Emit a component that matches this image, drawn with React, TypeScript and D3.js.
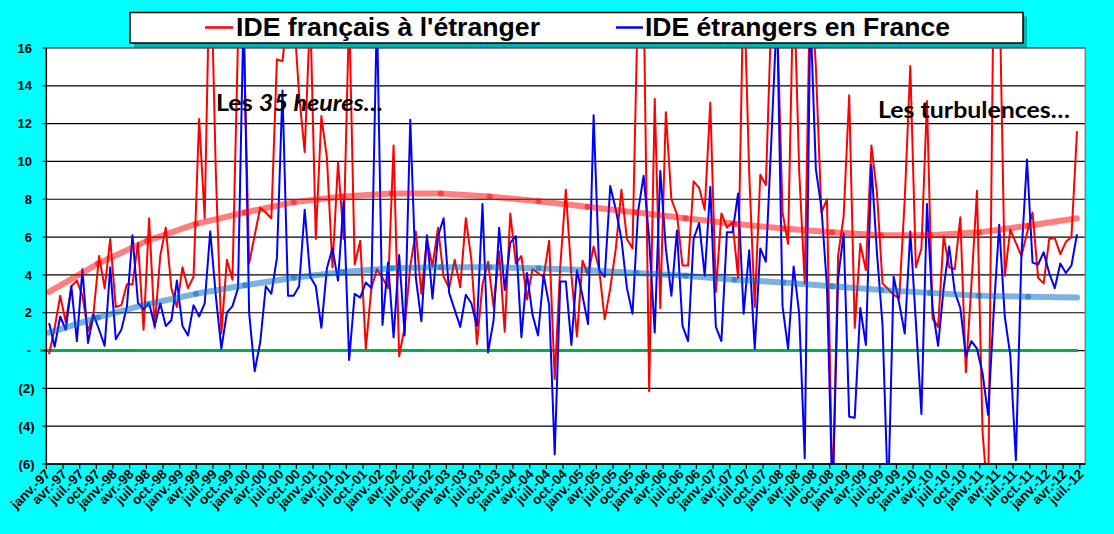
import React from "react";
import * as d3 from "d3";

// month labels (French, Excel style)
const monthNames = ["janv.", "févr.", "mars", "avr.", "mai", "juin", "juil.", "août", "sept.", "oct.", "nov.", "déc."];
const years = ["97", "98", "99", "00", "01", "02", "03", "04", "05", "06", "07", "08", "09", "10", "11", "12"];
const categories: string[] = years.flatMap((y) => monthNames.map((m) => `${m}-${y}`)).slice(0, 187);

// IDE français à l'étranger (Md€ / mois), janv.-97 -> juin-12
const ideFrancais = [
    -0.2, 1.2, 2.9, 1.5, 3.4, 3.7, 2.9, 1.0, 2.0, 5.0, 3.3, 5.9,
    2.3, 2.4, 3.5, 3.5, 5.7, 1.1, 7.0, 1.2, 5.0, 6.5, 3.3, 2.3,
    4.4, 3.3, 3.9, 12.25, 7.0, 22, 9.5, 0.9, 4.8, 3.75, 16.5, 17,
    4.6, 6.1, 7.55, 7.3, 7.0, 15.4, 15.3, 18, 18, 13.5, 10.5, 18,
    5.9, 12.4, 10.2, 4.4, 9.95, 5.9, 18, 4.55, 5.8, 0.1, 3.3, 4.3,
    3.85, 3.3, 10.85, -0.3, 1.25, 4.45, 6.3, 3.0, 5.9, 4.45, 6.5, 3.9,
    3.3, 4.8, 3.35, 7.0, 4.8, 0.35, 3.5, 4.7, 2.3, 5.25, 1.0, 7.25,
    4.6, 5.0, 2.7, 4.3, 4.1, 3.9, 5.8, -1.5, 4.45, 8.5, 4.0, 0.75,
    4.75, 4.0, 5.5, 4.3, 1.65, 3.3, 5.4, 8.5, 5.9, 5.4, 19, 19,
    -2.15, 13.3, 2.25, 12.6, 8.0, 7.2, 4.5, 4.5, 8.95, 8.6, 7.45, 13.1,
    3.1, 7.25, 6.5, 6.8, 3.85, 20, 9.4, 2.3, 9.3, 8.75, 18, 18,
    7.3, 5.65, 20, 9.5, 3.55, 20, 15, 7.3, 8.0, -8, 5.0, 7.1,
    13.5, 1.2, 5.65, 4.25, 10.85, 8.35, 3.55, 3.25, 2.95, 2.75, 8.0, 15.05,
    4.4, 5.4, 13.2, 1.7, 1.25, 6.05, 4.4, 4.3, 7.05, -1.15, 3.5, 8.45,
    -4.3, -8, 20, 20, 3.95, 6.4, 5.7, 5.0, 6.2, 7.3, 3.85, 3.55,
    5.9, 5.95, 5.1, 5.75, 6.0, 11.6,
];

// IDE étrangers en France
const ideEtrangers = [
    1.45, 0.2, 1.8, 1.1, 3.4, 0.5, 4.3, 0.4, 1.9, 1.1, 0.25, 4.4,
    0.6, 1.1, 2.3, 6.1, 2.5, 2.2, 2.5, 1.3, 2.5, 1.3, 1.6, 3.7,
    1.3, 0.8, 2.4, 1.8, 2.5, 6.3, 2.9, 0.1, 2.0, 2.35, 3.3, 18,
    2.0, -1.1, 0.45, 3.4, 3.0, 4.9, 13.75, 2.9, 2.9, 3.4, 7.45, 3.9,
    3.4, 1.2, 4.35, 5.4, 3.7, 7.9, -0.5, 3.0, 2.8, 3.6, 3.3, 18,
    1.35, 4.65, 0.7, 5.05, 0.8, 12.2, 3.85, 1.55, 6.1, 2.75, 6.05, 7.0,
    3.05, 2.15, 1.25, 2.95, 2.5, 1.3, 7.75, -0.1, 1.6, 6.5, 3.2, 5.7,
    6.05, 0.7, 4.1, 1.9, 0.8, 4.0, 2.4, -5.5, 3.65, 3.65, 0.3, 4.25,
    2.9, 1.4, 12.45, 4.25, 3.9, 8.7, 7.45, 5.9, 3.3, 1.95, 7.35, 9.25,
    5.9, 0.95, 9.5, 5.4, 2.9, 6.35, 1.3, 0.5, 5.9, 6.75, 3.95, 8.65,
    1.25, 0.5, 6.25, 6.25, 8.3, 1.95, 5.3, 0.1, 5.4, 4.7, 11.2, 18,
    2.35, 0.1, 4.45, 1.95, -5.7, 18, 9.6, 7.55, 3.4, -8, 3.8, 6.2,
    -3.5, -3.55, 2.25, 0.3, 9.8, 5.15, 1.35, -8, 3.9, 2.5, 0.9, 6.3,
    1.5, -3.35, 7.75, 2.25, 0.25, 3.3, 5.5, 3.1, 2.25, -0.3, 0.5, 0.1,
    -1.2, -3.4, 2.0, 6.65, 1.8, -0.25, -5.8, 5.05, 10.1, 4.65, 4.55, 5.2,
    4.1, 3.3, 4.6, 4.1, 4.5, 6.15,
];

// polynomial trendlines, read at 22 evenly spaced points over the data range
const trendFrancais = [3.1, 4.6, 5.8, 6.7, 7.3, 7.85, 8.15, 8.3, 8.3, 8.15, 7.9, 7.6, 7.3, 7.0, 6.7, 6.45, 6.25, 6.1, 6.1, 6.25, 6.6, 7.0];
const trendEtrangers = [0.95, 1.75, 2.45, 3.0, 3.45, 3.85, 4.15, 4.35, 4.4, 4.4, 4.35, 4.25, 4.1, 3.95, 3.75, 3.6, 3.4, 3.2, 3.05, 2.9, 2.85, 2.8];

const yTicks = [-6, -4, -2, 0, 2, 4, 6, 8, 10, 12, 14, 16];

const W = 1114;
const H = 534;
const plot = { left: 46.33, right: 1085.33, top: 48, bottom: 464 };
const axisFont = "'Liberation Sans', Arial, sans-serif";
const noteFont = "Lato, 'Open Sans', sans-serif";

const yLabel = (v: number) => (v === 0 ? "-" : v < 0 ? `(${-v})` : String(v));
const yLabelX = (v: number) => (v === 0 ? 31 : v < 0 ? 34.5 : 32);

export default function App() {
    const x = d3
        .scaleBand<number>()
        .domain(d3.range(categories.length))
        .range([plot.left, plot.right]);
    const xc = (i: number) => (x(i) ?? 0) + x.bandwidth() / 2;

    const y = d3.scaleLinear().domain([-6, 16]).range([plot.bottom, plot.top]);

    const line = d3
        .line<number>()
        .x((_, i) => xc(i))
        .y((d) => y(d));

    const n = ideFrancais.length - 1;
    const trendX = (k: number, len: number) => xc(0) + ((xc(n) - xc(0)) * k) / (len - 1);

    // trendline drawn as separate segments so joins overlap (like Excel)
    const trendSegments = (vals: number[]) =>
        vals.slice(1).map((v, k) => ({
            x1: trendX(k, vals.length),
            y1: y(vals[k]),
            x2: trendX(k + 1, vals.length),
            y2: y(v),
        }));

    const labelIdx = d3.range(0, categories.length, 3);

    return (
        <svg
            width={W}
            height={H}
            style={{ position: "absolute", left: 0, top: 0, display: "block" }}
        >
            <defs>
                <clipPath id="plotClip">
                    <rect x={plot.left} y={plot.top} width={plot.right - plot.left} height={plot.bottom - plot.top} />
                </clipPath>
            </defs>
            <rect width={W} height={H} fill="#00FFFF" />
            <rect
                x={plot.left}
                y={plot.top}
                width={plot.right - plot.left}
                height={plot.bottom - plot.top}
                fill="#fff"
            />

            {/* gridlines */}
            {yTicks.map((t) => (
                <line key={t} x1={plot.left} x2={plot.right} y1={y(t)} y2={y(t)} stroke="#000" strokeWidth={1.2} />
            ))}
            <line x1={plot.right} x2={plot.right} y1={plot.top} y2={plot.bottom} stroke="#808080" strokeWidth={1.5} />

            {/* zero line */}
            <line x1={40} x2={1078} y1={y(0)} y2={y(0)} stroke="#00B050" strokeWidth={3} />

            <g clipPath="url(#plotClip)">
                <path d={line(ideFrancais) ?? ""} fill="none" stroke="#FF0000" strokeWidth={2} strokeLinejoin="round" />
                <path d={line(ideEtrangers) ?? ""} fill="none" stroke="#0000FF" strokeWidth={2} strokeLinejoin="round" />
                {trendSegments(trendFrancais).map((s, i) => (
                    <line key={"tr" + i} {...s} stroke="rgba(255,0,0,0.5)" strokeWidth={6} strokeLinecap="round" />
                ))}
                {trendSegments(trendEtrangers).map((s, i) => (
                    <line key={"tb" + i} {...s} stroke="rgba(0,100,190,0.5)" strokeWidth={6} strokeLinecap="round" />
                ))}
            </g>

            {/* y axis */}
            <line x1={plot.left} x2={plot.left} y1={plot.top} y2={plot.bottom} stroke="#000" strokeWidth={1.5} />
            {yTicks.map((t) => (
                <g key={"yt" + t}>
                    <line x1={plot.left - 4} x2={plot.left} y1={y(t)} y2={y(t)} stroke="#000" strokeWidth={1.2} />
                    <text
                        x={yLabelX(t)}
                        y={y(t)}
                        dy="0.36em"
                        textAnchor="end"
                        fontFamily={axisFont}
                        fontWeight="bold"
                        fontSize={13}
                    >
                        {yLabel(t)}
                    </text>
                </g>
            ))}

            {/* x axis */}
            <line x1={plot.left} x2={plot.right} y1={plot.bottom} y2={plot.bottom} stroke="#000" strokeWidth={1.5} />
            {labelIdx.map((i) => (
                <g key={"xt" + i}>
                    <line x1={x(i)} x2={x(i)} y1={plot.bottom} y2={plot.bottom + 5} stroke="#000" strokeWidth={1.2} />
                    <text
                        transform={`translate(${xc(i) + 2},${plot.bottom + 11}) rotate(-45)`}
                        textAnchor="end"
                        fontFamily={axisFont}
                        fontWeight="bold"
                        fontSize={13.5}
                    >
                        {categories[i]}
                    </text>
                </g>
            ))}

            {/* legend */}
            <rect x={134} y={16.5} width={893} height={30.5} fill="#00B4B4" />
            <rect x={130} y={12.5} width={893} height={30.5} fill="#fff" stroke="#000" strokeWidth={1.5} />
            <line x1={205} x2={233} y1={27.5} y2={27.5} stroke="#FF0000" strokeWidth={2.5} />
            <text x={236} y={36} fontFamily={axisFont} fontWeight="bold" fontSize={26} textLength={304} lengthAdjust="spacingAndGlyphs">
                IDE français à l'étranger
            </text>
            <line x1={616} x2={643} y1={27.5} y2={27.5} stroke="#0000FF" strokeWidth={2.5} />
            <text x={645} y={36} fontFamily={axisFont} fontWeight="bold" fontSize={26} textLength={305} lengthAdjust="spacingAndGlyphs">
                IDE étrangers en France
            </text>

            {/* annotations */}
            <text x={216} y={111} fontFamily={noteFont} fontWeight="bold" fontSize={23} textLength={167} lengthAdjust="spacingAndGlyphs">
                Les <tspan fontStyle="italic">35 heures…</tspan>
            </text>
            <text x={878} y={118} fontFamily={noteFont} fontWeight="bold" fontSize={23} textLength={192} lengthAdjust="spacingAndGlyphs">
                Les turbulences…
            </text>
        </svg>
    );
}
